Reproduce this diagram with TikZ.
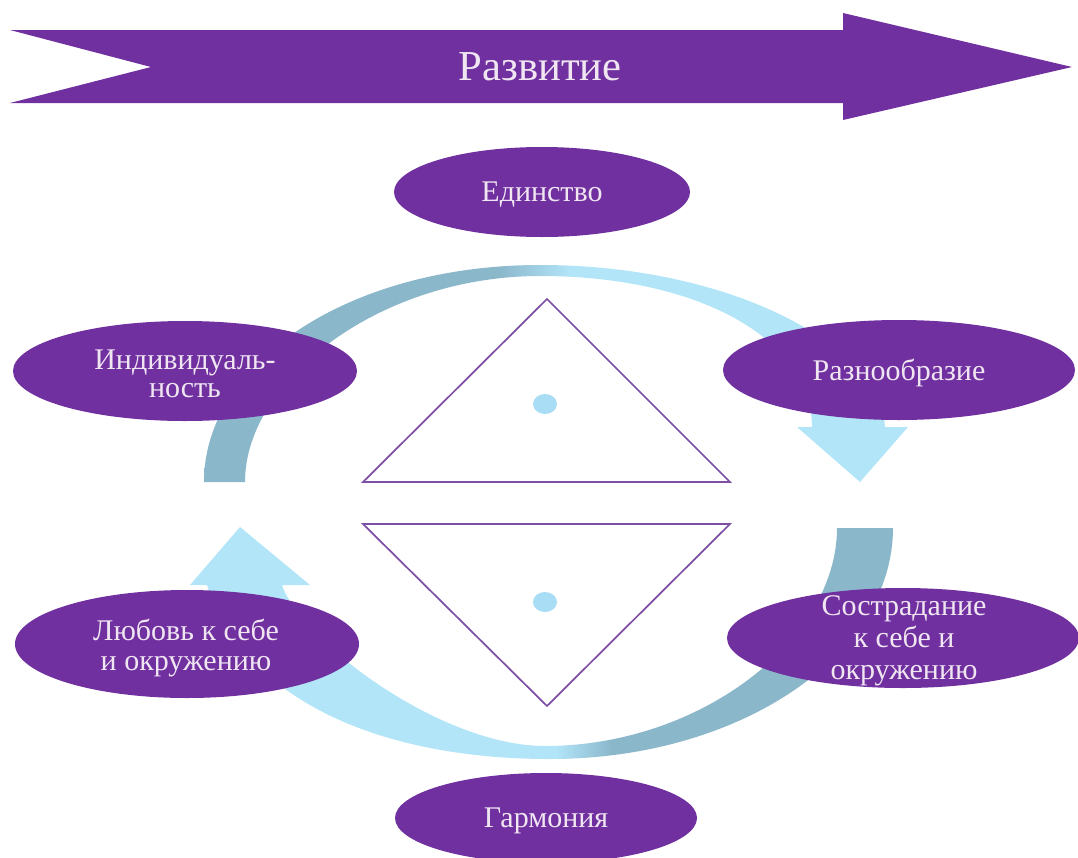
\documentclass[tikz,border=0pt]{standalone}
\usepackage{fontspec}
\setmainfont{Liberation Serif}
\usetikzlibrary{shapes.geometric}
\definecolor{purp}{RGB}{112,48,160}
\definecolor{txtc}{RGB}{240,230,242}
\definecolor{arcdark}{RGB}{139,183,203}
\definecolor{arclight}{RGB}{178,229,248}
\definecolor{dotc}{RGB}{168,221,245}
\definecolor{tric}{RGB}{125,80,165}
\pgfdeclarehorizontalshading{upperarc}{100bp}{color(0bp)=(arcdark); color(46bp)=(arcdark); color(51bp)=(arclight); color(100bp)=(arclight)}
\pgfdeclarehorizontalshading{lowerarc}{100bp}{color(0bp)=(arclight); color(51bp)=(arclight); color(55bp)=(arcdark); color(100bp)=(arcdark)}
\tikzset{
  oval/.style={ellipse, fill=purp, text=txtc, inner sep=0pt, align=center,
    text depth=0pt, font=\fontsize{22.5}{21}\selectfont},
  ovaltext/.style={text=txtc, inner sep=0pt, align=center},
  tri/.style={draw=tric, line width=1.3pt, line join=miter},
  dotnode/.style={ellipse, fill=dotc, inner sep=0pt, minimum width=18pt, minimum height=15pt},
}
\begin{document}
\begin{tikzpicture}[x=0.75pt,y=-0.75pt]
\useasboundingbox (0,0) rectangle (1078,857);
\clip (0,0) rectangle (1078,857);

% big top arrow
\fill[purp] (10,30) -- (843,30) -- (843,13) -- (1072,67) -- (843,120) -- (843,103) -- (10,103) -- (151,67) -- cycle;
\node[text=txtc, font=\fontsize{32}{36}\selectfont, inner sep=0pt, text depth=0pt] (dev) at (540,67) {Развитие};

% upper circular arrow
\shade[shading=upperarc] (204,482) .. controls (204,362) and (350,265) .. (540,265)
  .. controls (730,265) and (880,345) .. (885,427) -- (908,427) -- (860,482) -- (797,427) -- (812,427)
  .. controls (812,340) and (700,276) .. (540,276)
  .. controls (380,276) and (245,380) .. (245,482) -- cycle;

% lower circular arrow
\shade[shading=lowerarc] (893,528) .. controls (893,655) and (740,759) .. (550,759)
  .. controls (380,759) and (245,700) .. (207,585) -- (190,585) -- (240,527) -- (310,585) -- (282,585)
  .. controls (300,640) and (440,746) .. (545,746)
  .. controls (700,746) and (837,640) .. (837,528) -- cycle;

% triangles
\draw[tri] (363,482) -- (730,482) -- (547,299) -- cycle;
\draw[tri] (363,524) -- (730,524) -- (547,706) -- cycle;
\node[dotnode] (d1) at (545,404) {};
\node[dotnode] (d2) at (545,602) {};

% ovals
\node[oval, minimum width=222pt, minimum height=67.5pt] (uni) at (542,192) {Единство};
\node[oval, minimum width=264pt, minimum height=75pt] (div) at (899,370) {Разнообразие};
\node[oval, minimum width=226.5pt, minimum height=67.5pt] (harm) at (546,818) {Гармония};

\node[oval, minimum width=258pt, minimum height=75pt] (indE) at (185,371) {};
\node[ovaltext, font=\fontsize{22.5}{21}\selectfont] (ind) at (185,374) {Индивидуаль-\\ность};

\node[oval, minimum width=258pt, minimum height=81pt] (loveE) at (187,644) {};
\node[ovaltext, font=\fontsize{22.5}{22.5}\selectfont] (love) at (186,648) {Любовь к себе\\и окружению};

\node[oval, minimum width=264pt, minimum height=75pt] (compE) at (903,638) {};
\node[ovaltext, font=\fontsize{22.5}{24}\selectfont] (comp) at (904,641) {Сострадание\\к себе и\\окружению};
\end{tikzpicture}
\end{document}
